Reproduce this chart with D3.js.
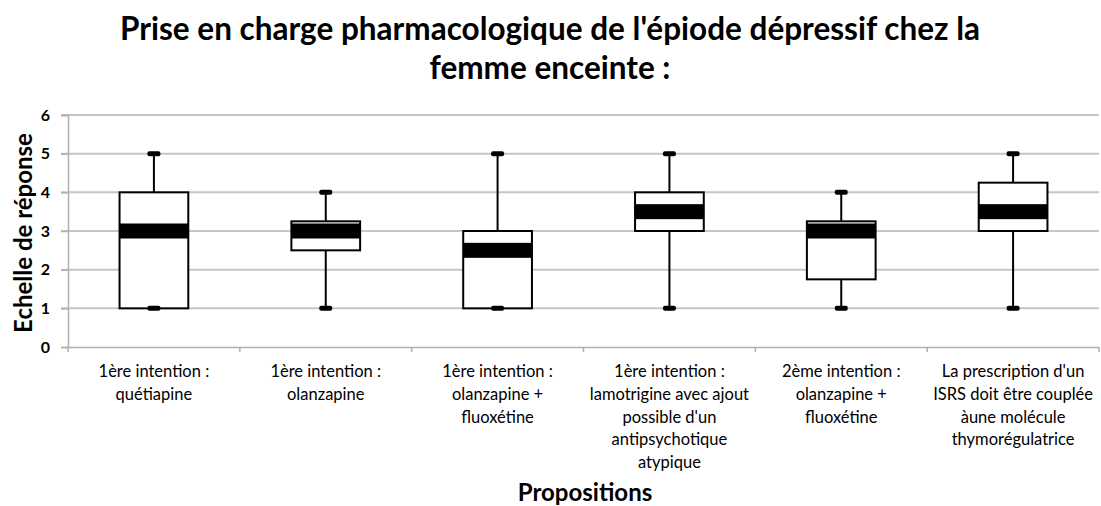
<!DOCTYPE html>
<html>
<head>
<meta charset="utf-8">
<script src="https://cdn.jsdelivr.net/npm/d3@7"></script>
<style>
  body { margin: 0; background: #fff; }
  text { font-family: Lato, "Open Sans", sans-serif; fill: #000; }
</style>
</head>
<body>
<svg id="mySvg" width="1101" height="506"></svg>
<script>
// data
var categories = [
    ["1ère intention :", "quétiapine"],
    ["1ère intention :", "olanzapine"],
    ["1ère intention :", "olanzapine +", "fluoxétine"],
    ["1ère intention :", "lamotrigine avec ajout", "possible d'un", "antipsychotique", "atypique"],
    ["2ème intention :", "olanzapine +", "fluoxétine"],
    ["La prescription d'un", "ISRS doit être couplée", "àune molécule", "thymorégulatrice"]
];
var minValues    = [1, 1, 1, 1, 1, 1];
var q1Values     = [1, 2.5, 1, 3, 1.75, 3];
var medianValues = [3, 3, 2.5, 3.5, 3, 3.5];
var q3Values     = [4, 3.25, 3, 4, 3.25, 4.25];
var maxValues    = [5, 4, 5, 5, 4, 5];
var yTicks = [0, 1, 2, 3, 4, 5, 6];

var svgWidth = 1101;
var svgHeight = 506;
var plotLeft = 68, plotRight = 1099, plotTop = 115, plotBottom = 347;

var svg = d3.select("#mySvg");

var xScale = d3.scaleBand()
    .domain(d3.range(categories.length))
    .range([plotLeft, plotRight]);

var yScale = d3.scaleLinear()
    .domain([0, 6])
    .range([plotBottom, plotTop]);

// gridlines
svg.append("g")
    .selectAll("line")
    .data(yTicks.filter(d => d > 0))
    .enter()
    .append("line")
    .attr("x1", plotLeft - 7)
    .attr("x2", plotRight)
    .attr("y1", d => yScale(d))
    .attr("y2", d => yScale(d))
    .attr("stroke", "#c6c6c6")
    .attr("stroke-width", 2);

// y axis
var y_axis = d3.axisLeft(yScale)
    .tickValues(yTicks)
    .tickFormat(d3.format("d"))
    .tickSize(7)
    .tickPadding(11);
var yg = svg.append("g")
    .attr("transform", "translate(" + plotLeft + ",0)")
    .call(y_axis);
yg.select(".domain").attr("stroke", "#b0b0b0").attr("stroke-width", 1.5);
yg.selectAll(".tick line").attr("stroke", "#b0b0b0").attr("stroke-width", 1.5);
yg.selectAll(".tick text")
    .attr("font-size", 16)
    .attr("font-weight", "bold")
    .style("font-family", "Lato, sans-serif");

// x axis
var x_axis = d3.axisBottom(xScale).tickSize(0).tickFormat("");
var xg = svg.append("g")
    .attr("transform", "translate(0," + plotBottom + ")")
    .call(x_axis);
xg.select(".domain").attr("stroke", "#b0b0b0").attr("stroke-width", 1.5);
svg.append("g")
    .selectAll("line")
    .data(d3.range(categories.length + 1))
    .enter()
    .append("line")
    .attr("x1", d => plotLeft + d * xScale.step())
    .attr("x2", d => plotLeft + d * xScale.step())
    .attr("y1", plotBottom)
    .attr("y2", plotBottom + 5)
    .attr("stroke", "#b0b0b0")
    .attr("stroke-width", 1.5);

// boxes
var boxW = xScale.bandwidth() * 0.4;
var capW = 13;
var boxes = svg.append("g")
    .selectAll("g")
    .data(d3.range(categories.length))
    .enter()
    .append("g");

var cx = i => xScale(i) + xScale.bandwidth() / 2;

boxes.append("line")
    .attr("x1", cx).attr("x2", cx)
    .attr("y1", i => yScale(maxValues[i]))
    .attr("y2", i => yScale(minValues[i]))
    .attr("stroke", "#000")
    .attr("stroke-width", 2);

boxes.append("rect")
    .attr("x", i => cx(i) - boxW / 2)
    .attr("y", i => yScale(q3Values[i]))
    .attr("width", boxW)
    .attr("height", i => yScale(q1Values[i]) - yScale(q3Values[i]))
    .attr("fill", "#fff")
    .attr("stroke", "#000")
    .attr("stroke-width", 2);

boxes.append("rect")
    .attr("x", i => cx(i) - boxW / 2)
    .attr("y", i => yScale(medianValues[i]) - 7.5)
    .attr("width", boxW)
    .attr("height", 15)
    .attr("fill", "#000");

[maxValues, minValues].forEach(function(vals) {
    boxes.append("rect")
        .attr("x", i => cx(i) - capW / 2)
        .attr("y", i => yScale(vals[i]) - 2.5)
        .attr("width", capW)
        .attr("height", 5)
        .attr("rx", 2)
        .attr("fill", "#000");
});

// category labels
var labels = svg.append("g")
    .selectAll("text")
    .data(categories)
    .enter()
    .append("text")
    .attr("text-anchor", "middle")
    .attr("font-size", 16.5);
labels.selectAll("tspan")
    .data((d, i) => d.map(s => ({s: s, i: i})))
    .enter()
    .append("tspan")
    .attr("x", d => cx(d.i))
    .attr("y", (d, j) => 377 + j * 22.8)
    .text(d => d.s);

// titles
svg.append("text")
    .attr("x", 550).attr("y", 40)
    .attr("text-anchor", "middle")
    .attr("font-size", 31.5)
    .attr("font-weight", "bold")
    .text("Prise en charge pharmacologique de l'épiode dépressif chez la");
svg.append("text")
    .attr("x", 550).attr("y", 79)
    .attr("text-anchor", "middle")
    .attr("font-size", 31.5)
    .attr("font-weight", "bold")
    .text("femme enceinte :");

svg.append("text")
    .attr("transform", "translate(32," + ((plotTop + plotBottom) / 2 + 2) + ") rotate(-90)")
    .attr("text-anchor", "middle")
    .attr("font-size", 24)
    .attr("font-weight", "bold")
    .text("Echelle de réponse");

svg.append("text")
    .attr("x", 585).attr("y", 501)
    .attr("text-anchor", "middle")
    .attr("font-size", 24)
    .attr("font-weight", "bold")
    .text("Propositions");
</script>
</body>
</html>
